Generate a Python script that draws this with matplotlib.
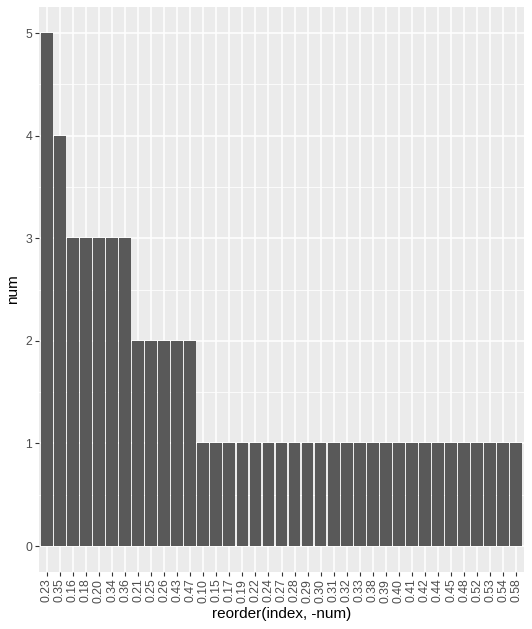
import matplotlib.pyplot as plt
import numpy as np

plt.rcParams['font.family'] = ['Liberation Sans', 'DejaVu Sans']

index_labels = ['0.23', '0.35', '0.16', '0.18', '0.20', '0.34', '0.36', '0.21', '0.25',
                '0.26', '0.43', '0.47', '0.10', '0.15', '0.17', '0.19', '0.22', '0.24',
                '0.27', '0.28', '0.29', '0.30', '0.31', '0.32', '0.33', '0.38', '0.39',
                '0.40', '0.41', '0.42', '0.44', '0.45', '0.48', '0.52', '0.53', '0.54',
                '0.58']
num = [5, 4, 3, 3, 3, 3, 3, 2, 2, 2, 2, 2] + [1] * 25

fig = plt.figure(figsize=(5.32, 6.29), dpi=100)
ax = fig.add_axes([0.0733, 0.0911, 0.9117, 0.8970])
ax.set_facecolor('#EBEBEB')

x = np.arange(1, len(num) + 1)
ax.bar(x, num, width=0.9, color='#595959', zorder=3)

# сетка в стиле ggplot
ax.set_yticks([0, 1, 2, 3, 4, 5])
ax.set_yticks([0.5, 1.5, 2.5, 3.5, 4.5], minor=True)
ax.grid(True, which='major', color='white', linewidth=1.1, zorder=0)
ax.grid(True, which='minor', axis='y', color='white', linewidth=0.55, zorder=0)
ax.set_axisbelow(True)

ax.set_xticks(x)
ax.set_xticklabels(index_labels, rotation=90)
ax.set_xlim(0.4, len(num) + 0.6)
ax.set_ylim(-0.25, 5.25)

for s in ax.spines.values():
    s.set_visible(False)
ax.tick_params(axis='both', which='major', length=3, width=0.8, color='#333333',
               labelsize=8.8, labelcolor='#4D4D4D', pad=2)
ax.tick_params(axis='both', which='minor', length=0)

ax.set_xlabel('reorder(index, -num)', fontsize=11, labelpad=3)
ax.set_ylabel('num', fontsize=11, labelpad=4)

fig.savefig('out.png', dpi=100)
